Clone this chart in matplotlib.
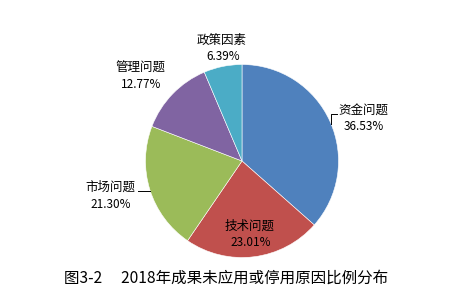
import matplotlib
matplotlib.use("Agg")
import matplotlib.pyplot as plt

plt.rcParams['font.family'] = ['Noto Sans CJK SC', 'DejaVu Sans']

categories = ['资金问题', '技术问题', '市场问题', '管理问题', '政策因素']
shares = [36.53, 23.01, 21.30, 12.77, 6.39]
colors = ['#4F81BD', '#C0504D', '#9BBB59', '#8064A2', '#4BACC6']
title = '图3-2\u3000 2018年成果未应用或停用原因比例分布'

W, H = 468, 302
fig = plt.figure(figsize=(W / 100, H / 100), dpi=100)
ax = fig.add_axes([0, 0, 1, 1])

cx, cy, r = 242, H - 161, 96.5
ax.pie(shares, colors=colors, startangle=90, counterclock=False,
       center=(cx, cy), radius=r, frame=True,
       wedgeprops=dict(edgecolor='white', linewidth=0.4))
ax.set_xlim(0, W)
ax.set_ylim(0, H)
ax.set_aspect('equal')
ax.axis('off')

# label positions (pixel coords, top-left origin)
label_pos = [(363, 110), (250, 226), (110, 187), (140, 68), (222, 40)]
for (x, y), name, v in zip(label_pos, categories, shares):
    ax.text(x, H - y, name, fontsize=9, ha='center', va='center')
    ax.text(x + 1, H - y - 17, f'{v:.2f}%', fontsize=8.5, ha='center', va='center')

# leader lines
ax.plot([331, 331, 337], [H - 124, H - 114, H - 114], color='black', lw=0.7)
ax.plot([138, 150], [H - 191, H - 191], color='black', lw=0.7)

ax.text(226, H - 278, title, fontsize=11.2, ha='center', va='center')

fig.savefig('out.png', dpi=100)
